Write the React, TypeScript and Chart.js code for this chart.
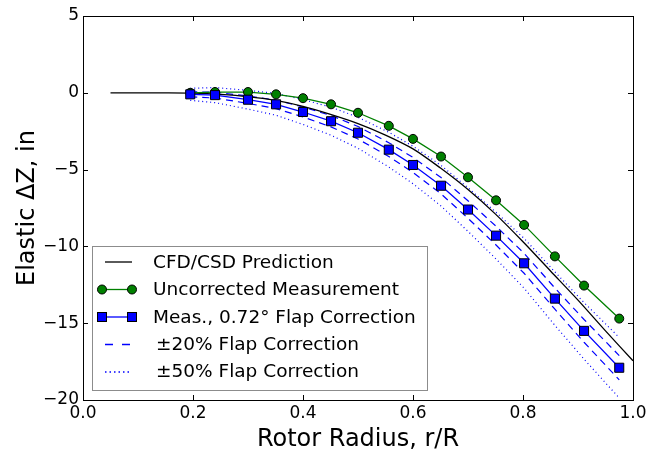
import React, { useEffect, useRef } from "react";
import { Chart, registerables } from "chart.js";

Chart.register(...registerables);

// CFD/CSD prediction
const cfdR = [0.05, 0.1, 0.15, 0.2, 0.25, 0.3, 0.35, 0.4, 0.45, 0.5, 0.55, 0.6, 0.65, 0.7, 0.75, 0.8, 0.85, 0.9, 0.95, 1.0];
const cfdDz = [0, 0, 0, -0.02, -0.1, -0.25, -0.5, -0.88, -1.4, -2.0, -2.75, -3.65, -4.9, -6.3, -7.9, -9.7, -11.6, -13.5, -15.5, -17.45];

// Measurement stations
const measR = [0.195, 0.24, 0.3, 0.351, 0.4, 0.451, 0.5, 0.556, 0.6, 0.651, 0.7, 0.751, 0.802, 0.858, 0.911, 0.975];
const uncorrected = [0.0, 0.05, 0.05, -0.1, -0.35, -0.75, -1.3, -2.15, -3.0, -4.15, -5.5, -7.0, -8.6, -10.65, -12.55, -14.7];
const corrected = [-0.1, -0.15, -0.45, -0.75, -1.25, -1.85, -2.6, -3.7, -4.7, -6.05, -7.6, -9.3, -11.1, -13.4, -15.5, -17.9];
const plus20 = [0.06, 0.04, -0.21, -0.47, -0.93, -1.48, -2.19, -3.25, -4.21, -5.52, -7.03, -8.69, -10.45, -12.71, -14.76, -17.11];
const minus20 = [-0.26, -0.34, -0.69, -1.03, -1.57, -2.22, -3.01, -4.15, -5.19, -6.58, -8.17, -9.91, -11.75, -14.09, -16.24, -18.69];
const plus50 = [0.29, 0.34, 0.16, -0.04, -0.44, -0.94, -1.59, -2.57, -3.48, -4.73, -6.18, -7.78, -9.48, -11.66, -13.66, -15.93];
const minus50 = [-0.49, -0.64, -1.06, -1.46, -2.06, -2.76, -3.61, -4.83, -5.92, -7.37, -9.02, -10.82, -12.72, -15.14, -17.34, -19.87];

// Axes
const xTicks = [0, 0.2, 0.4, 0.6, 0.8, 1.0];
const yTicks = [-20, -15, -10, -5, 0, 5];
const xTitle = "Rotor Radius, r/R";
const yTitle = "Elastic \u0394Z, in";
const legendLabels = [
  "CFD/CSD Prediction",
  "Uncorrected Measurement",
  "Meas., 0.72\u00B0 Flap Correction",
  "\u00B120% Flap Correction",
  "\u00B150% Flap Correction",
];

const FONT = "'DejaVu Sans', sans-serif";

const pts = (xs: number[], ys: number[]) => xs.map((x, i) => ({ x, y: ys[i] }));

const decorPlugin = {
  id: "decor",
  afterDatasetsDraw(chart: any) {
    const { ctx, chartArea: a, scales } = chart;
    ctx.save();
    ctx.strokeStyle = "#000";
    ctx.lineWidth = 1;
    ctx.setLineDash([]);
    ctx.strokeRect(Math.round(a.left) + 0.5, Math.round(a.top) + 0.5, Math.round(a.right - a.left), Math.round(a.bottom - a.top));
    const tl = 5;
    ctx.beginPath();
    xTicks.forEach((v) => {
      const px = Math.round(scales.x.getPixelForValue(v)) + 0.5;
      ctx.moveTo(px, a.bottom);
      ctx.lineTo(px, a.bottom - tl);
      ctx.moveTo(px, a.top);
      ctx.lineTo(px, a.top + tl);
    });
    yTicks.forEach((v) => {
      const py = Math.round(scales.y.getPixelForValue(v)) + 0.5;
      ctx.moveTo(a.left, py);
      ctx.lineTo(a.left + tl, py);
      ctx.moveTo(a.right, py);
      ctx.lineTo(a.right - tl, py);
    });
    ctx.stroke();
    ctx.restore();
  },
  afterDraw(chart: any) {
    const { ctx, chartArea: a } = chart;
    ctx.save();
    // axis titles
    ctx.fillStyle = "#000";
    ctx.font = `24px ${FONT}`;
    ctx.textAlign = "center";
    ctx.textBaseline = "middle";
    ctx.fillText(xTitle, (a.left + a.right) / 2, 440);
    ctx.save();
    ctx.translate(28, (a.top + a.bottom) / 2);
    ctx.rotate(-Math.PI / 2);
    ctx.fillText(yTitle, 0, 0);
    ctx.restore();

    // legend
    const bx = 92.5, by = 246.5, bw = 335, bh = 144;
    ctx.fillStyle = "#fff";
    ctx.fillRect(bx, by, bw, bh);
    ctx.strokeStyle = "#8c8c8c";
    ctx.lineWidth = 1;
    ctx.strokeRect(bx, by, bw, bh);
    const rows = [262, 289.5, 317, 344, 371.5];
    const x0 = 102, x1 = 132;
    // row 0: black line
    ctx.strokeStyle = "#000";
    ctx.lineWidth = 1.3;
    ctx.beginPath();
    ctx.moveTo(105, rows[0]);
    ctx.lineTo(132, rows[0]);
    ctx.stroke();
    // row 1: green with circles
    ctx.strokeStyle = "#008000";
    ctx.beginPath();
    ctx.moveTo(x0, rows[1]);
    ctx.lineTo(x1, rows[1]);
    ctx.stroke();
    [x0, x1].forEach((x) => {
      ctx.beginPath();
      ctx.arc(x, rows[1], 4.5, 0, Math.PI * 2);
      ctx.fillStyle = "#008000";
      ctx.fill();
      ctx.strokeStyle = "#000";
      ctx.lineWidth = 1;
      ctx.stroke();
    });
    // row 2: blue with squares
    ctx.strokeStyle = "#0000ff";
    ctx.lineWidth = 1.3;
    ctx.beginPath();
    ctx.moveTo(x0, rows[2]);
    ctx.lineTo(x1, rows[2]);
    ctx.stroke();
    [x0, x1].forEach((x) => {
      ctx.fillStyle = "#0000ff";
      ctx.fillRect(x - 4.5, rows[2] - 4.5, 9, 9);
      ctx.strokeStyle = "#000";
      ctx.lineWidth = 1;
      ctx.strokeRect(x - 4.5, rows[2] - 4.5, 9, 9);
    });
    // row 3: dashed
    ctx.strokeStyle = "#0000ff";
    ctx.lineWidth = 1.3;
    ctx.setLineDash([8, 9]);
    ctx.beginPath();
    ctx.moveTo(105, 344.5);
    ctx.lineTo(130, 344.5);
    ctx.stroke();
    // row 4: dotted
    ctx.strokeStyle = "#0000ff";
    ctx.lineWidth = 1.3;
    ctx.setLineDash([1.5, 3]);
    ctx.beginPath();
    ctx.moveTo(105, 372);
    ctx.lineTo(130, 372);
    ctx.stroke();
    ctx.setLineDash([]);
    // labels
    ctx.fillStyle = "#000";
    ctx.font = `18.5px ${FONT}`;
    ctx.textAlign = "left";
    ctx.textBaseline = "middle";
    legendLabels.forEach((t, i) => {
      ctx.fillText(t, i >= 3 ? 156 : 153, rows[i] + 1);
    });
    ctx.restore();
  },
};

export default function App() {
  const ref = useRef<HTMLCanvasElement>(null);
  useEffect(() => {
    document.body.style.margin = "0";
    const canvas = ref.current;
    if (!canvas) return;
    const chart = new Chart(canvas, {
      type: "line",
      data: {
        datasets: [
          {
            label: legendLabels[2],
            data: pts(measR, corrected),
            borderColor: "#0000ff",
            backgroundColor: "#0000ff",
            borderWidth: 1.3,
            pointStyle: "rect",
            pointRadius: 6.4,
            pointBorderColor: "#000",
            pointBorderWidth: 1,
            order: 1,
          },
          {
            label: legendLabels[1],
            data: pts(measR, uncorrected),
            borderColor: "#008000",
            backgroundColor: "#008000",
            borderWidth: 1.3,
            pointStyle: "circle",
            pointRadius: 4.5,
            pointBorderColor: "#000",
            pointBorderWidth: 1,
            order: 2,
          },
          {
            label: legendLabels[0],
            data: pts(cfdR, cfdDz),
            borderColor: "#000",
            borderWidth: 1.3,
            pointRadius: 0,
            tension: 0.3,
            order: 3,
          },
          {
            label: "+20%",
            data: pts(measR, plus20),
            borderColor: "#0000ff",
            borderWidth: 1.2,
            borderDash: [7, 5],
            pointRadius: 0,
            order: 4,
          },
          {
            label: "-20%",
            data: pts(measR, minus20),
            borderColor: "#0000ff",
            borderWidth: 1.2,
            borderDash: [7, 5],
            pointRadius: 0,
            order: 4,
          },
          {
            label: "+50%",
            data: pts(measR, plus50),
            borderColor: "#0000ff",
            borderWidth: 1.2,
            borderDash: [1, 3],
            pointRadius: 0,
            order: 5,
          },
          {
            label: "-50%",
            data: pts(measR, minus50),
            borderColor: "#0000ff",
            borderWidth: 1.2,
            borderDash: [1, 3],
            pointRadius: 0,
            order: 5,
          },
        ],
      },
      options: {
        responsive: false,
        animation: false,
        devicePixelRatio: 1,
        layout: { padding: { left: 0, right: 19, top: 16, bottom: 0 } },
        plugins: { legend: { display: false }, tooltip: { enabled: false }, title: { display: false } },
        scales: {
          x: {
            type: "linear",
            min: 0,
            max: 1,
            border: { display: false },
            grid: { display: false, drawTicks: false },
            afterBuildTicks: (s: any) => {
              s.ticks = xTicks.map((v) => ({ value: v }));
            },
            afterFit: (s: any) => {
              s.height = 57;
            },
            ticks: {
              color: "#000",
              padding: 3,
              maxRotation: 0,
              font: { family: FONT, size: 17 },
              callback: (v: any) => Number(v).toFixed(1),
            },
          },
          y: {
            type: "linear",
            min: -20,
            max: 5,
            border: { display: false },
            grid: { display: false, drawTicks: false },
            afterBuildTicks: (s: any) => {
              s.ticks = yTicks.map((v) => ({ value: v }));
            },
            afterFit: (s: any) => {
              s.width = 83;
            },
            ticks: {
              color: "#000",
              padding: 4,
              font: { family: FONT, size: 17 },
              callback: (v: any) => (Number(v) < 0 ? "\u2212" + Math.abs(Number(v)) : String(v)),
            },
          },
        },
      },
      plugins: [decorPlugin],
    });
    return () => chart.destroy();
  }, []);
  return (
    <div style={{ width: 652, height: 457, position: "relative" }}>
      <canvas ref={ref} width={652} height={457} style={{ display: "block", width: 652, height: 457 }} />
    </div>
  );
}
